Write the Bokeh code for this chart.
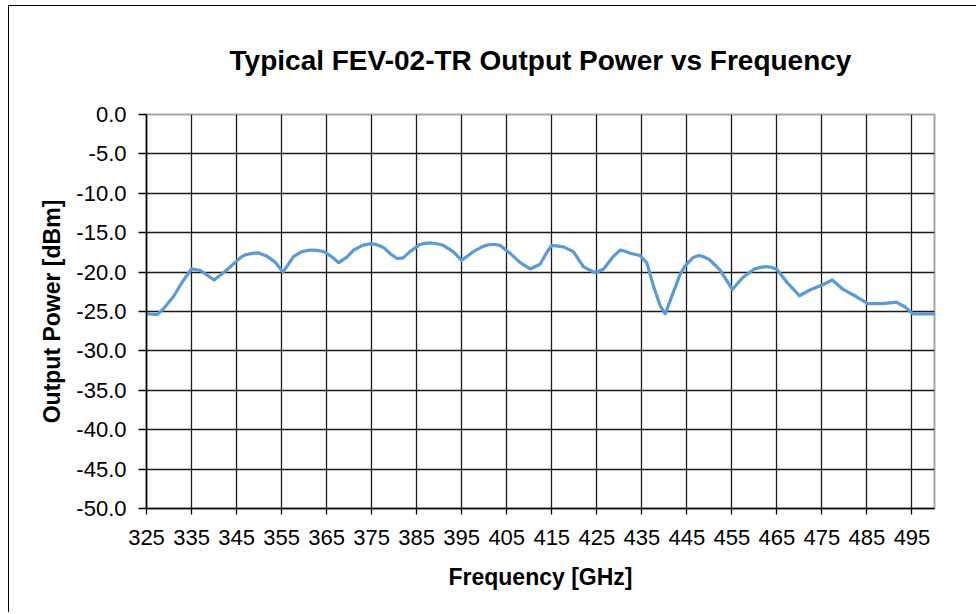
from bokeh.plotting import figure
from bokeh.models import FixedTicker, NumeralTickFormatter, Range1d
from bokeh.embed import file_html
from bokeh.resources import INLINE

# ---- data ----
freq_ghz = [325, 326.2, 327.4, 329, 331, 333, 335, 337, 338.5, 340, 342.5, 345, 346,
            347, 348.8, 349.8, 350.5, 351.8, 353.5, 355.3, 357.7, 359.5, 361.4, 362.9,
            364.4, 366, 367.7, 369.5, 371, 373, 374.7, 375.6, 376.5, 377.7, 379.2,
            380.7, 382, 383.5, 385.7, 386.8, 388, 389.5, 390.9, 393.1, 395, 397.6,
            399.5, 400.4, 401.3, 402.4, 403.5, 405.7, 408, 410.2, 412.4, 413.8, 415,
            416.3, 417.6, 419.8, 422, 424.3, 425.4, 426.5, 428.7, 430.2, 431.3, 432.4,
            434.6, 436.1, 437.6, 439.1, 440.2, 441.9, 443.5, 444.5, 446.3, 447, 447.8,
            448.9, 450, 452.3, 455.1, 457.4, 460, 461.3, 462.6, 463.8, 464.9, 467.4,
            470, 472.6, 475.2, 477.3, 479.7, 482.6, 485.2, 488.6, 491.5, 493.4, 495.2,
            498.2, 500]
power_dbm = [-25.3, -25.35, -25.4, -24.5, -23.1, -21.2, -19.6, -19.8, -20.4, -21.0,
             -19.9, -18.6, -18.1, -17.8, -17.6, -17.55, -17.7, -18.0, -18.7, -20.0,
             -18.0, -17.4, -17.2, -17.25, -17.4, -18.0, -18.8, -18.1, -17.2, -16.6,
             -16.4, -16.45, -16.6, -16.9, -17.7, -18.3, -18.2, -17.4, -16.5, -16.35,
             -16.3, -16.4, -16.6, -17.4, -18.5, -17.4, -16.8, -16.6, -16.5, -16.5,
             -16.6, -17.6, -18.8, -19.6, -19.0, -17.6, -16.6, -16.7, -16.8, -17.4,
             -19.3, -20.0, -19.9, -19.6, -18.0, -17.2, -17.35, -17.6, -17.9, -18.8,
             -21.8, -24.3, -25.3, -22.7, -20.3, -19.3, -18.2, -18.0, -17.9, -18.1,
             -18.4, -19.7, -22.2, -20.7, -19.6, -19.4, -19.3, -19.4, -19.6, -21.4,
             -23.0, -22.2, -21.6, -21.0, -22.2, -23.1, -24.0, -24.0, -23.8, -24.4,
             -25.3, -25.3, -25.3]

x_ticks = [325, 335, 345, 355, 365, 375, 385, 395, 405, 415, 425, 435, 445, 455,
           465, 475, 485, 495]
y_ticks = [0, -5, -10, -15, -20, -25, -30, -35, -40, -45, -50]
y_grid_ticks = [-5, -10, -15, -20, -25, -30, -35, -40, -45]

title_text = "Typical FEV-02-TR Output Power vs Frequency"
x_title = "Frequency [GHz]"
y_title = "Output Power [dBm]"

FONT = "Liberation Sans"

p = figure(width=968, height=607, output_backend="svg", toolbar_location=None,
           x_range=Range1d(325, 500), y_range=Range1d(-50, 0),
           min_border_left=137, min_border_right=43, min_border_top=108,
           min_border_bottom=105, title=title_text)

# outer chart border: only its top and left edges are visible in the reference
p.styles = {"border-left": "1.5px solid #000000", "border-top": "1.5px solid #000000",
            "margin-left": "8px", "margin-top": "5px"}

p.background_fill_color = "white"
p.border_fill_color = "white"
p.outline_line_color = "#a6a6a6"
p.outline_line_width = 2

p.title.align = "center"
p.title.vertical_align = "top"
p.title.text_font = FONT
p.title.text_font_size = "28px"
p.title.text_font_style = "bold"
p.title.text_color = "#000000"
p.title.standoff = 74

# axes
for ax in (p.xaxis[0], p.yaxis[0]):
    ax.axis_line_color = "#000000"
    ax.axis_line_width = 1.5
    ax.major_tick_line_color = "#000000"
    ax.major_tick_line_width = 1.3
    ax.major_tick_in = 0
    ax.minor_tick_line_color = None
    ax.major_label_text_font = FONT
    ax.major_label_text_font_size = "22px"
    ax.major_label_text_color = "#000000"
    ax.axis_label_text_font = FONT
    ax.axis_label_text_font_size = "23px"
    ax.axis_label_text_font_style = "bold"
    ax.axis_label_text_color = "#000000"

p.xaxis.ticker = FixedTicker(ticks=x_ticks)
p.xaxis.major_tick_out = 6
p.xaxis.major_label_standoff = 15
p.xaxis.axis_label = x_title
p.xaxis.axis_label_standoff = 16

p.yaxis.ticker = FixedTicker(ticks=y_ticks)
p.yaxis.formatter = NumeralTickFormatter(format="0.0")
p.yaxis.major_tick_out = 8
p.yaxis.major_label_standoff = 12
p.yaxis.axis_label = y_title
p.yaxis.axis_label_standoff = 8

# grid
p.xgrid.ticker = FixedTicker(ticks=x_ticks[1:])
p.ygrid.ticker = FixedTicker(ticks=y_grid_ticks)
p.xgrid.grid_line_color = "#1a1a1a"
p.ygrid.grid_line_color = "#1a1a1a"
p.xgrid.grid_line_width = 1.3
p.ygrid.grid_line_width = 1.3

p.line(freq_ghz, power_dbm, line_color="#5b9bd5", line_width=3.2,
       line_join="round", line_cap="round")

open("out.html", "w").write(file_html(p, INLINE))
